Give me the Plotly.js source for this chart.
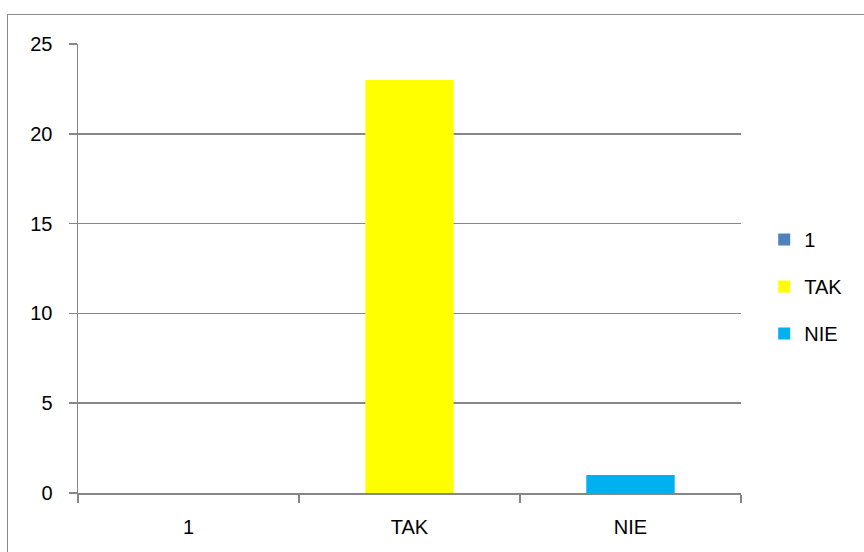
<!DOCTYPE html>
<html><head><meta charset="utf-8">
<script src="https://cdn.plot.ly/plotly-3.0.1.min.js"></script>
<style>
html,body{margin:0;padding:0;background:#fff;overflow:hidden;}
#frame{position:absolute;left:7px;top:14px;width:900px;height:600px;border:1.5px solid #888;box-sizing:border-box;}
#chart{position:absolute;left:0;top:0;width:864px;height:552px;}
</style></head>
<body>
<div id="frame"></div>
<div id="chart"></div>
<script>
var categories = ["1", "TAK", "NIE"];
var seriesNames = ["1", "TAK", "NIE"];
var values = [0, 23, 1];
var colors = ["#4F81BD", "#FFFF00", "#00B0F0"];
var yTicks = [0, 5, 10, 15, 20, 25];

var traces = seriesNames.map(function(name, i){
  return {
    type: "bar",
    name: name,
    x: [categories[i]],
    y: [values[i]],
    width: 0.4,
    marker: {color: colors[i]},
    legendgroup: "g" + i,
    hoverinfo: "none"
  };
});

var layout = {
  width: 864, height: 552,
  paper_bgcolor: "rgba(0,0,0,0)",
  plot_bgcolor: "rgba(0,0,0,0)",
  margin: {l: 78, r: 123, t: 44, b: 59},
  barmode: "overlay",
  font: {family: "Liberation Sans, Arial, sans-serif", size: 20, color: "#000"},
  showlegend: true,
  legend: {
    x: 1.035, y: 0.46, xanchor: "left", yanchor: "middle",
    font: {size: 20, color: "#000"},
    tracegroupgap: 18,
    itemwidth: 30
  },
  xaxis: {
    type: "category",
    categoryorder: "array", categoryarray: categories,
    range: [-0.5, 2.5],
    showline: true, linecolor: "#868686", linewidth: 1.5,
    ticks: "outside", tickson: "boundaries", ticklen: 8, tickcolor: "#868686", tickwidth: 1.5,
    showgrid: false, zeroline: false,
    ticklabelstandoff: 15,
    tickfont: {size: 20}
  },
  yaxis: {
    range: [0, 25],
    tickvals: yTicks,
    showline: true, linecolor: "#868686", linewidth: 1.5,
    ticks: "outside", ticklen: 8, tickcolor: "#868686", tickwidth: 1.5,
    showgrid: true, gridcolor: "#868686", gridwidth: 1.5,
    zeroline: false,
    ticklabelstandoff: 12,
    tickfont: {size: 20}
  }
};

Plotly.newPlot("chart", traces, layout, {staticPlot: true, displayModeBar: false});
</script>
</body></html>
